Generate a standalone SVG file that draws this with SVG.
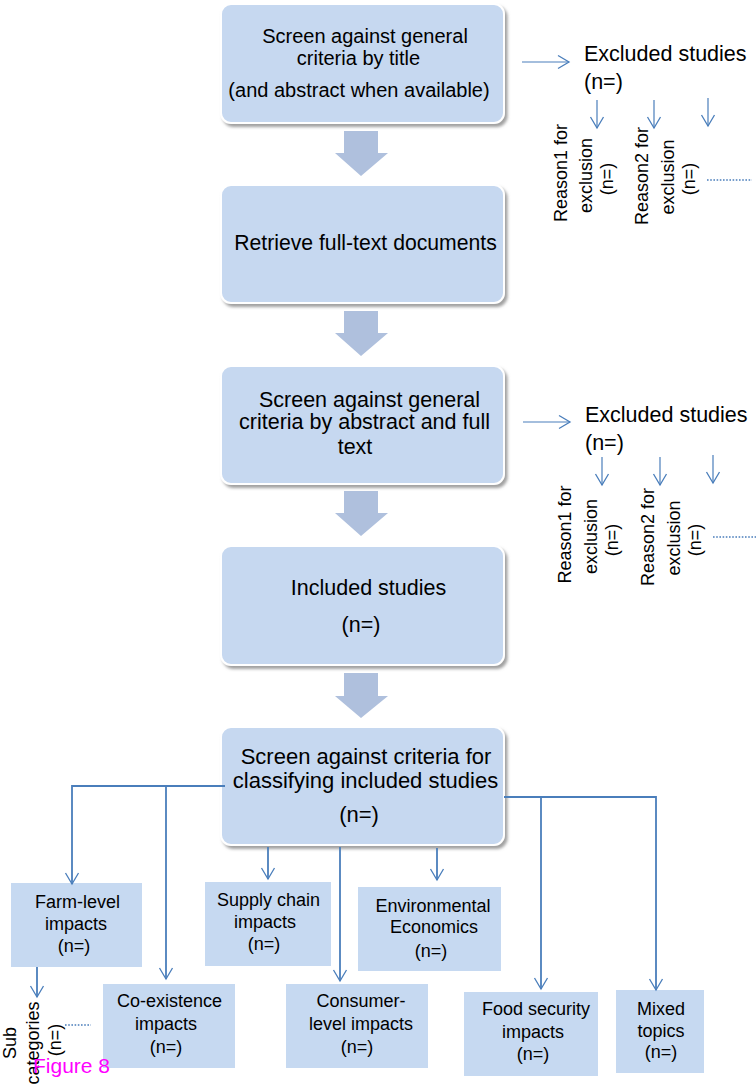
<svg xmlns="http://www.w3.org/2000/svg" width="756" height="1085" viewBox="0 0 756 1085">
<style>
text{font-family:"Liberation Sans",Arial,Helvetica,sans-serif;fill:#000}
.m{font-size:21.5px;text-anchor:middle}
.s{font-size:18px;text-anchor:middle}
.x{font-size:21.5px}
.r{font-size:18px;text-anchor:middle}
.mb{fill:#c6d8f0;stroke:#ffffff;stroke-width:2;filter:url(#sh)}
.bb{fill:#c6d9f1}
.ba{fill:#afc0dd}
.c{fill:none;stroke:#4a7ebb;stroke-width:1.8}
.t{fill:none;stroke:#4a7ebb;stroke-width:1.2}
.d{fill:none;stroke:#4a7ebb;stroke-width:1.6;stroke-dasharray:1.6 1.6}
</style>
<defs>
<filter id="sh" x="-5%" y="-5%" width="115%" height="120%">
<feDropShadow dx="2.5" dy="3" stdDeviation="1.6" flood-color="#808080" flood-opacity="0.75"/>
</filter>
<marker id="ah" viewBox="-13 -8 15 16" refX="0" refY="0" markerWidth="15" markerHeight="16" markerUnits="userSpaceOnUse" orient="auto">
<path d="M-11,-6.5 L0,0 L-11,6.5" fill="none" stroke="#4a7ebb" stroke-width="1.3"/>
</marker>
</defs>

<g id="box1">
<rect class="mb" x="221" y="4" width="283" height="119" rx="10"/>
<text class="m" style="font-size:20px" x="365" y="43">Screen against general</text>
<text class="m" style="font-size:20px" x="358.5" y="65">criteria by title</text>
<text class="m" style="font-size:20px" x="359" y="96.5">(and abstract when available)</text>
</g>
<g id="arrow1"><path class="ba" d="M344,131 H378 V153 H388 L361,176 L335,153 H344 Z"/></g>
<g id="box2">
<rect class="mb" x="221" y="185" width="283" height="118" rx="10"/>
<text class="m" style="font-size:21.2px" x="365.5" y="250">Retrieve full-text documents</text>
</g>
<g id="arrow2"><path class="ba" d="M344,311 H378 V333 H388 L361,356 L335,333 H344 Z"/></g>
<g id="box3">
<rect class="mb" x="221" y="366" width="283" height="118" rx="10"/>
<text class="m" x="369.5" y="407">Screen against general</text>
<text class="m" x="364.5" y="429">criteria by abstract and full</text>
<text class="m" x="355" y="454">text</text>
</g>
<g id="arrow3"><path class="ba" d="M344,491 H378 V513 H388 L361,536 L335,513 H344 Z"/></g>
<g id="box4">
<rect class="mb" x="221" y="546" width="283" height="119" rx="10"/>
<text class="m" x="368.5" y="595">Included studies</text>
<text class="m" x="361" y="632">(n=)</text>
</g>
<g id="arrow4"><path class="ba" d="M344,673 H378 V696 H388 L361,718 L335,696 H344 Z"/></g>
<g id="box5">
<rect class="mb" x="221" y="727" width="283" height="118" rx="10"/>
<text class="m" style="font-size:22px" x="366" y="764">Screen against criteria for</text>
<text class="m" style="font-size:22px" x="365.5" y="788">classifying included studies</text>
<text class="m" style="font-size:22px" x="359" y="822">(n=)</text>
</g>

<g id="excluded1">
<text class="x" x="584" y="61">Excluded studies</text>
<text class="x" x="584" y="88.5">(n=)</text>
<text class="r" transform="translate(567,173) rotate(-90)">Reason1 for</text>
<text class="r" transform="translate(592,175.5) rotate(-90)">exclusion</text>
<text class="r" transform="translate(612.5,179) rotate(-90)">(n=)</text>
<text class="r" transform="translate(648,176) rotate(-90)">Reason2 for</text>
<text class="r" transform="translate(674,177) rotate(-90)">exclusion</text>
<text class="r" transform="translate(695,179) rotate(-90)">(n=)</text>
</g>
<g id="excluded2">
<text class="x" x="585" y="422">Excluded studies</text>
<text class="x" x="585" y="450">(n=)</text>
<text class="r" transform="translate(571,534.5) rotate(-90)">Reason1 for</text>
<text class="r" transform="translate(597,536.5) rotate(-90)">exclusion</text>
<text class="r" transform="translate(617.5,540) rotate(-90)">(n=)</text>
<text class="r" transform="translate(654,537) rotate(-90)">Reason2 for</text>
<text class="r" transform="translate(680,538) rotate(-90)">exclusion</text>
<text class="r" transform="translate(701,540) rotate(-90)">(n=)</text>
</g>

<g id="farm">
<rect class="bb" x="11" y="883" width="131" height="84"/>
<text class="s" x="77.5" y="908">Farm-level</text>
<text class="s" x="76" y="930">impacts</text>
<text class="s" x="74" y="952">(n=)</text>
</g>
<g id="subcategories">
<text class="r" transform="translate(16,1043) rotate(-90)">Sub</text>
<text class="r" transform="translate(39,1043) rotate(-90)">categories</text>
<text class="r" transform="translate(61,1040) rotate(-90)">(n=)</text>
</g>
<g id="coexistence">
<rect class="bb" x="103" y="984" width="132" height="84"/>
<text class="s" x="169.5" y="1007">Co-existence</text>
<text class="s" x="166" y="1030">impacts</text>
<text class="s" x="166" y="1053">(n=)</text>
</g>
<g id="supply">
<rect class="bb" x="205" y="882" width="126" height="84"/>
<text class="s" x="268.5" y="906">Supply chain</text>
<text class="s" x="265" y="928">impacts</text>
<text class="s" x="264" y="950">(n=)</text>
</g>
<g id="consumer">
<rect class="bb" x="286" y="984" width="142" height="84"/>
<text class="s" x="361" y="1007">Consumer-</text>
<text class="s" x="361" y="1030">level impacts</text>
<text class="s" x="357" y="1053">(n=)</text>
</g>
<g id="environmental">
<rect class="bb" x="358" y="887" width="143" height="84"/>
<text class="s" x="433" y="912">Environmental</text>
<text class="s" x="434" y="933">Economics</text>
<text class="s" x="431" y="957">(n=)</text>
</g>
<g id="food">
<rect class="bb" x="464" y="992" width="134" height="84"/>
<text class="s" x="536" y="1015">Food security</text>
<text class="s" x="533" y="1038">impacts</text>
<text class="s" x="533" y="1060">(n=)</text>
</g>
<g id="mixed">
<rect class="bb" x="616" y="990" width="88" height="83"/>
<text class="s" x="661" y="1015">Mixed</text>
<text class="s" x="661" y="1037">topics</text>
<text class="s" x="661" y="1058">(n=)</text>
</g>

<g id="connectors">
<path class="c" d="M225,786 H72 V884" marker-end="url(#ah)"/>
<path class="c" d="M166,786 V979" marker-end="url(#ah)"/>
<path class="c" d="M268,847 V879" marker-end="url(#ah)"/>
<path class="c" d="M340,847 V981" marker-end="url(#ah)"/>
<path class="c" d="M437,848 V880" marker-end="url(#ah)"/>
<path class="c" d="M504,797 H656 V990" marker-end="url(#ah)"/>
<path class="c" d="M541,797 V989" marker-end="url(#ah)"/>
<path class="c" d="M37,967 V997" marker-end="url(#ah)"/>
<path class="d" d="M65,1025 H91"/>
<path class="t" d="M522,62 H569" marker-end="url(#ah)"/>
<path class="t" d="M597,100 V128" marker-end="url(#ah)"/>
<path class="t" d="M654,100 V128" marker-end="url(#ah)"/>
<path class="t" d="M708,98 V126" marker-end="url(#ah)"/>
<path class="d" d="M707,180 H752"/>
<path class="t" d="M523,422 H570" marker-end="url(#ah)"/>
<path class="t" d="M602,457 V485" marker-end="url(#ah)"/>
<path class="t" d="M660,457 V485" marker-end="url(#ah)"/>
<path class="t" d="M713,455 V483" marker-end="url(#ah)"/>
<path class="d" d="M713,537 H756"/>
</g>

<text x="33" y="1073" style="font-size:21px;fill:#ff00ff">Figure 8</text>
</svg>
